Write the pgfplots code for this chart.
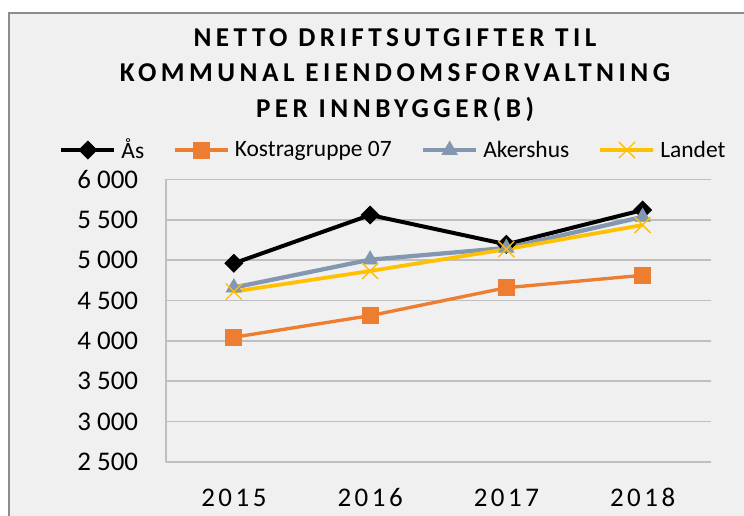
\documentclass[border=0pt]{standalone}
\usepackage{fontspec}
\setmainfont{Carlito}
\newfontfamily\titlefont{Carlito}[LetterSpace=16.5]
\newfontfamily\xfont{Carlito}[LetterSpace=13]
\usepackage{pgfplots}
\pgfplotsset{compat=1.18}
\definecolor{cOrange}{HTML}{ED7D31}
\definecolor{cGray}{HTML}{8497B0}
\definecolor{cYellow}{HTML}{FFC000}
\definecolor{cBg}{HTML}{F0F0F0}
\definecolor{cGrid}{HTML}{BFBFBF}
\definecolor{cBorder}{HTML}{8C8C8C}
\begin{document}
\begin{tikzpicture}
\path[use as bounding box] (0pt,0pt) rectangle (558pt,-387pt);
\clip (0pt,0pt) rectangle (558pt,-387pt);
\fill[white] (0pt,0pt) rectangle (558pt,-387pt);
\draw[cBorder, line width=1.5pt, fill=cBg] (7pt,-9.5pt) rectangle (620pt,-430pt);
\node[font={\titlefont\bfseries\fontsize{20.4pt}{24pt}\selectfont}, anchor=base, inner sep=0pt] at (296.25pt,-35.25pt) {NETTO DRIFTSUTGIFTER TIL};
\node[font={\titlefont\bfseries\fontsize{20.4pt}{24pt}\selectfont}, anchor=base, inner sep=0pt] at (296.25pt,-61.3pt) {KOMMUNAL EIENDOMSFORVALTNING};
\node[font={\titlefont\bfseries\fontsize{20.4pt}{24pt}\selectfont}, anchor=base, inner sep=0pt] at (296.25pt,-88pt) {PER INNBYGGER(B)};
\begin{axis}[
  at={(124.3pt,-346.5pt)}, anchor=south west,
  width=408.75pt, height=212pt, scale only axis,
  xmin=-0.5, xmax=3.5, ymin=2500, ymax=6000,
  xtick={0,1,2,3}, xticklabels={2015,2016,2017,2018},
  ytick={2500,3000,3500,4000,4500,5000,5500,6000},
  yticklabels={2 500,3 000,3 500,4 000,4 500,5 000,5 500,6 000},
  major tick length=0pt,
  axis lines*=left,
  axis line style={draw=cGrid, line width=1.2pt, -},
  ymajorgrids,
  grid style={draw=cGrid, line width=1.2pt},
  yticklabel style={anchor=east, inner sep=0pt, xshift=-20.5pt, font=\fontsize{20.2pt}{24pt}\selectfont},
  xticklabel style={anchor=base, inner sep=0pt, yshift=-33.75pt, font={\xfont\fontsize{20.2pt}{24pt}\selectfont}},
  clip=false,
  legend columns=4,
  legend image code/.code={\draw[mark repeat=2, mark phase=2, #1] plot coordinates {(0pt,0pt) (19.875pt,0pt) (39.75pt,0pt)};},
  legend style={draw=none, fill=none, at={(0.416,1.1036)}, anchor=center,
    font=\fontsize{17.6pt}{20pt}\selectfont,
    nodes={inner sep=0pt},
    /tikz/every odd column/.append style={column sep=3.75pt},
    /tikz/every even column/.append style={column sep=22pt}},
]
\addplot[black, line width=3pt, mark=square*, mark size=4.8pt, mark options={rotate=45, solid, line width=0.5pt, fill=black}]
  coordinates {(0,4960) (1,5558) (2,5195) (3,5620)};
\addlegendentry{Ås}
\addplot[cOrange, line width=2.5pt, mark=square*, mark size=6pt, mark options={solid, line width=0.6pt, fill=cOrange}]
  coordinates {(0,4045) (1,4312) (2,4658) (3,4812)};
\addlegendentry{Kostragruppe 07}
\addplot[cGray, line width=3.2pt, mark=triangle*, mark size=6.6pt, mark options={solid, line width=0.5pt, fill=cGray}]
  coordinates {(0,4660) (1,5005) (2,5150) (3,5535)};
\addlegendentry{Akershus}
\addplot[cYellow, line width=2.8pt, mark=x, mark size=8.5pt, mark options={solid, line width=1pt}]
  coordinates {(0,4610) (1,4865) (2,5135) (3,5434)};
\addlegendentry{Landet}
\end{axis}
\end{tikzpicture}
\end{document}
